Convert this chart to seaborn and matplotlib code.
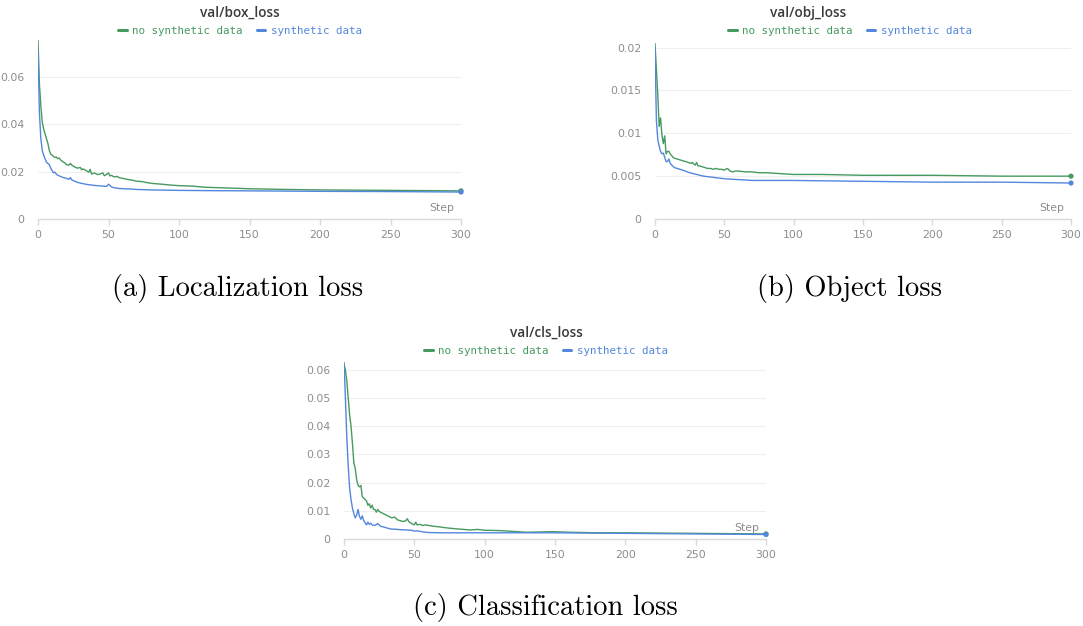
import numpy as np
import pandas as pd
import matplotlib
matplotlib.use("Agg")
import matplotlib.pyplot as plt
import seaborn as sns
from matplotlib.ticker import FuncFormatter, FixedLocator

# ---------------- data ----------------
SERIES = ["no synthetic data", "synthetic data"]
COLORS = ["#479a5f", "#5387dd"]

box_no_steps = [0,1,2,3,4,5,6,7,8,9,10,11,12,13,14,15,16,17,18,19,20,22,23,24,26,28,30,31,32,34,36,37,38,40,42,44,46,47,48,50,51,52,54,56,58,60,63,66,70,74,78,82,86,90,95,100,105,110,115,120,130,140,150,175,200,225,250,275,300]
box_no_vals = [0.0755,0.057,0.048,0.041,0.038,0.036,0.034,0.032,0.029,0.0275,0.027,0.0265,0.026,0.0262,0.0255,0.0258,0.025,0.0245,0.024,0.0238,0.023,0.0228,0.0235,0.0228,0.022,0.0215,0.0218,0.0208,0.0212,0.0205,0.0198,0.021,0.019,0.0195,0.0188,0.019,0.0195,0.0183,0.0186,0.0195,0.0182,0.0185,0.0178,0.018,0.0174,0.0172,0.0168,0.0165,0.016,0.0158,0.0153,0.015,0.0148,0.0146,0.0143,0.0141,0.014,0.0139,0.0136,0.0134,0.0132,0.013,0.0128,0.0125,0.0123,0.0122,0.0121,0.012,0.0119]

box_syn_steps = [0,1,2,3,4,5,6,7,8,9,10,11,12,13,14,16,18,20,22,23,24,26,28,30,33,36,40,44,48,49,50,51,52,54,56,60,65,70,80,90,100,120,150,200,250,300]
box_syn_vals = [0.0715,0.045,0.034,0.029,0.027,0.0255,0.024,0.0235,0.023,0.0215,0.0205,0.0195,0.0198,0.019,0.0185,0.018,0.0175,0.0172,0.0168,0.0175,0.0165,0.016,0.0155,0.0152,0.0148,0.0145,0.0142,0.014,0.0138,0.014,0.0147,0.0142,0.0136,0.0132,0.013,0.0128,0.0127,0.0125,0.0123,0.0122,0.0121,0.012,0.0119,0.0117,0.0116,0.0114]

obj_no_steps = [0,1,2,3,4,5,6,7,8,9,10,11,12,13,14,16,18,20,22,24,26,27,28,29,30,31,32,34,36,38,40,42,44,46,48,50,52,53,54,56,58,60,65,70,75,80,90,100,110,120,150,200,250,300]
obj_no_vals = [0.0205,0.0175,0.0145,0.0108,0.0118,0.0098,0.0088,0.0097,0.0076,0.0079,0.0079,0.0076,0.0074,0.0072,0.0071,0.0070,0.0069,0.0068,0.0067,0.0066,0.0065,0.0066,0.0064,0.0063,0.0066,0.0062,0.0062,0.0061,0.0060,0.0059,0.0059,0.0058,0.0059,0.0058,0.0058,0.0057,0.0059,0.0058,0.0056,0.0055,0.0056,0.0056,0.0055,0.0055,0.0054,0.0054,0.0053,0.0052,0.0052,0.0052,0.0051,0.0051,0.0050,0.0050]

obj_syn_steps = [0,1,2,3,4,5,6,7,8,9,10,11,12,14,16,18,20,25,30,35,40,50,60,70,80,100,150,200,250,300]
obj_syn_vals = [0.0200,0.0115,0.0093,0.0085,0.0079,0.0076,0.0077,0.0072,0.0067,0.0067,0.0070,0.0065,0.0063,0.0060,0.0059,0.0058,0.0057,0.0054,0.0052,0.0050,0.0049,0.0047,0.0046,0.0045,0.0045,0.0045,0.0044,0.0043,0.0043,0.0042]

cls_no_steps = [0,1,2,3,4,5,6,7,8,9,10,11,12,13,14,15,16,17,18,19,20,21,22,23,24,25,26,28,30,32,34,36,38,40,42,44,45,46,48,50,51,52,54,56,58,60,64,68,72,76,80,85,90,95,100,110,120,130,140,148,160,180,200,250,300]
cls_no_vals = [0.062,0.060,0.056,0.050,0.044,0.040,0.034,0.027,0.025,0.021,0.019,0.0185,0.019,0.015,0.0145,0.014,0.0135,0.012,0.0125,0.011,0.012,0.0105,0.0105,0.0095,0.0105,0.0098,0.0095,0.009,0.0085,0.008,0.0075,0.0078,0.0068,0.0065,0.0062,0.0065,0.0072,0.0062,0.0055,0.005,0.006,0.005,0.0052,0.0048,0.005,0.0048,0.0045,0.0043,0.004,0.0038,0.0036,0.0034,0.0032,0.0034,0.0031,0.003,0.0027,0.0024,0.0025,0.0026,0.0024,0.0022,0.0022,0.0020,0.0018]

cls_syn_steps = [0,1,2,3,4,5,6,7,8,9,10,11,12,13,14,15,16,17,18,19,20,22,24,26,28,30,32,34,36,40,45,48,50,52,55,60,70,80,100,150,200,250,300]
cls_syn_vals = [0.063,0.050,0.036,0.026,0.018,0.014,0.011,0.009,0.0075,0.0085,0.0105,0.008,0.007,0.0082,0.0065,0.0058,0.005,0.006,0.0052,0.0056,0.005,0.0048,0.0055,0.0045,0.0043,0.004,0.0037,0.0035,0.0035,0.0033,0.0032,0.0031,0.0028,0.0029,0.0026,0.0023,0.0022,0.0022,0.0022,0.0022,0.002,0.0018,0.0016]

TITLES = ["val/box_loss", "val/obj_loss", "val/cls_loss"]
CAPTIONS = ["(a) Localization loss", "(b) Object loss", "(c) Classification loss"]
X_TICKS = [0, 50, 100, 150, 200, 250, 300]
Y_TICKS = [[0, 0.02, 0.04, 0.06],
           [0, 0.005, 0.01, 0.015, 0.02],
           [0, 0.01, 0.02, 0.03, 0.04, 0.05, 0.06]]
Y_TOPS = [0.0757, 0.0206, 0.063]

panels = [
    [(box_no_steps, box_no_vals), (box_syn_steps, box_syn_vals)],
    [(obj_no_steps, obj_no_vals), (obj_syn_steps, obj_syn_vals)],
    [(cls_no_steps, cls_no_vals), (cls_syn_steps, cls_syn_vals)],
]

# ---------------- style ----------------
sns.set_theme(style="white")
plt.rcParams["font.family"] = ["DejaVu Sans"]

W, H = 1083, 626
fig = plt.figure(figsize=(W / 100, H / 100), dpi=100)

def fx(px):
    return px / W

def fy(py):
    return 1 - py / H

# axes rectangles in pixels: (x0, x300, y_top, y_zero)
rects = [(38, 461, 40, 219), (655, 1071, 42.5, 219), (344, 766, 361.5, 539)]
title_pos = [(240, 13), (808, 13), (546, 333)]
legend_pos = [(240, 31), (850, 31), (546, 351)]
caption_pos = [(238, 289), (850, 289), (545, 607)]

TICK_COLOR = "#8c8c8c"
GRID_COLOR = "#efefef"
AXIS_COLOR = "#dadada"

def fmt(v, pos):
    if v == 0:
        return "0"
    return ("%g" % v)

palette = dict(zip(SERIES, COLORS))

for i, series in enumerate(panels):
    x0, x1, yt, yb = rects[i]
    ax = fig.add_axes([fx(x0), fy(yb), fx(x1 - x0), (yb - yt) / H])
    rows = []
    for name, (st, vals) in zip(SERIES, series):
        assert len(st) == len(vals), (i, name, len(st), len(vals))
        for s, v in zip(st, vals):
            rows.append({"Step": s, "value": v, "series": name})
    df = pd.DataFrame(rows)
    sns.lineplot(data=df, x="Step", y="value", hue="series", palette=palette,
                 linewidth=1.0, ax=ax, legend=False, estimator=None)
    last = df[df["Step"] == 300]
    sns.scatterplot(data=last, x="Step", y="value", hue="series", palette=palette,
                    s=14, linewidth=0, ax=ax, legend=False, clip_on=False, zorder=5)
    ax.set_xlim(0, 300)
    ax.set_ylim(0, Y_TOPS[i])
    ax.xaxis.set_major_locator(FixedLocator(X_TICKS))
    ax.yaxis.set_major_locator(FixedLocator(Y_TICKS[i]))
    ax.yaxis.set_major_formatter(FuncFormatter(fmt))
    ax.set_xlabel("")
    ax.set_ylabel("")
    for sp in ["top", "right", "left"]:
        ax.spines[sp].set_visible(False)
    ax.spines["bottom"].set_color(AXIS_COLOR)
    ax.spines["bottom"].set_linewidth(1.0)
    ax.tick_params(axis="x", colors=AXIS_COLOR, labelcolor=TICK_COLOR, length=4,
                   width=1.0, direction="out", labelsize=7.8, pad=4, bottom=True)
    ax.tick_params(axis="y", length=0, labelcolor=TICK_COLOR, labelsize=7.8, pad=10)
    ax.yaxis.grid(True, color=GRID_COLOR, linewidth=0.8)
    ax.xaxis.grid(False)
    ax.set_axisbelow(True)
    ax.annotate("Step", xy=(1, 0), xycoords="axes fraction", xytext=(-5, 4),
                textcoords="offset points", ha="right", va="bottom",
                color=TICK_COLOR, fontsize=7.8)
    # title
    tx, ty = title_pos[i]
    fig.text(fx(tx), fy(ty), TITLES[i], ha="center", va="center",
             fontsize=9.8, color="#3a3a3a", fontweight="semibold",
             family=["Open Sans", "DejaVu Sans"])
    # legend
    handles = [plt.Line2D([], [], color=c, linewidth=2.2) for c in COLORS]
    lx, ly = legend_pos[i]
    leg = fig.legend(handles, SERIES, loc="center", bbox_to_anchor=(fx(lx), fy(ly)),
                     bbox_transform=fig.transFigure, ncol=2, frameon=False,
                     handlelength=0.8, handletextpad=0.5, columnspacing=1.3,
                     prop={"family": "DejaVu Sans Mono", "size": 7.8},
                     labelcolor=COLORS, borderpad=0, borderaxespad=0)
    # caption
    cx, cy = caption_pos[i]
    fig.text(fx(cx), fy(cy), CAPTIONS[i], ha="center", va="center",
             fontsize=20.5, family="cmr10", color="black")

fig.savefig("out.png", dpi=100, facecolor="white")
